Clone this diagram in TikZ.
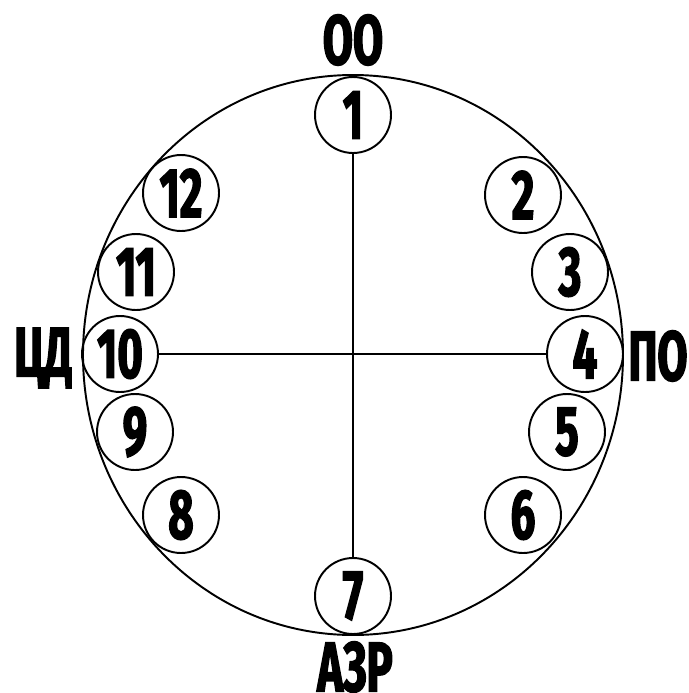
\documentclass[tikz,border=0pt]{standalone}
\usepackage{fontspec}
\newfontfamily\heavy{Fira Sans}[FakeStretch=0.62,FakeBold=2]
\usetikzlibrary{positioning}

\tikzset{
  num/.style={draw, circle, line width=1.1pt, minimum size=1.52cm, inner sep=0pt,
    font=\heavy\bfseries\fontsize{40}{40}\selectfont},
  side/.style={inner sep=0pt, font=\heavy\bfseries\fontsize{40}{40}\selectfont}
}

\begin{document}
\begin{tikzpicture}[x=0.02cm, y=-0.02cm]
    \useasboundingbox (0,0) rectangle (689,693);
    % outer ring
    \draw[line width=1.1pt] (353,355) ellipse [x radius=270, y radius=280];

    % numbered circles
    \node[num] (n1) at (353,115) {1};
    \node[num] (n2) at (523,195) {2};
    \node[num] (n3) at (570,272) {3};
    \node[num] (n4) at (585,354) {4};
    \node[num] (n5) at (567,432) {5};
    \node[num] (n6) at (523,515) {6};
    \node[num] (n7) at (353,596) {7};
    \node[num] (n8) at (181,515) {8};
    \node[num] (n9) at (135,432) {9};
    \node[num] (n10) at (120,354) {10};
    \node[num] (n11) at (136,272) {11};
    \node[num] (n12) at (181,193) {12};

    % axes
    \draw[line width=1.1pt] (n1) -- (n7);
    \draw[line width=1.1pt] (n10) -- (n4);

    % side labels
    \node[side] (oo) at (353,40) {ОО};
    \node[side] (po) at (658,356) {ПО};
    \node[side] (azr) at (355,667) {АЗР};
    \node[side] (cd) at (43,358) {ЦД};
\end{tikzpicture}
\end{document}
